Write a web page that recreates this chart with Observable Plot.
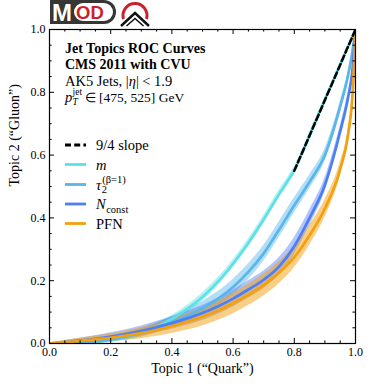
<!DOCTYPE html>
<html><head><meta charset="utf-8">
<script src="https://cdn.jsdelivr.net/npm/d3@7"></script>
<script src="https://cdn.jsdelivr.net/npm/@observablehq/plot@0.6"></script>
<style>
body{margin:0;background:#fff;}
#wrap{position:relative;width:374px;height:388px;}
svg text{font-family:"Liberation Serif",serif;}
</style></head><body>
<div id="wrap"></div>
<script>
// ---- data ----
const xs     = [0, 0.05, 0.1, 0.15, 0.2, 0.25, 0.3, 0.35, 0.4, 0.45, 0.5, 0.55, 0.6, 0.65, 0.7, 0.75, 0.8, 0.85, 0.9, 0.95, 0.975, 0.99, 1];
const mY     = [0, 0.001, 0.003, 0.006, 0.011, 0.02, 0.034, 0.053, 0.078, 0.11, 0.148, 0.196, 0.254, 0.32, 0.395, 0.475, 0.552, 0.662, 0.776, 0.888, 0.944, 0.978, 1];
const mErr   = [0, 0.003, 0.004, 0.005, 0.006, 0.008, 0.009, 0.01, 0.011, 0.012, 0.013, 0.013, 0.013, 0.013, 0.013, 0.013, 0.012, 0.011, 0.01, 0.008, 0.006, 0.004, 0];
const tauY   = [0, 0.001, 0.003, 0.007, 0.013, 0.022, 0.034, 0.05, 0.068, 0.088, 0.112, 0.142, 0.18, 0.228, 0.287, 0.362, 0.44, 0.515, 0.6, 0.755, 0.85, 0.93, 1];
const tauErr = [0, 0.003, 0.005, 0.007, 0.009, 0.012, 0.014, 0.016, 0.018, 0.02, 0.022, 0.023, 0.024, 0.025, 0.025, 0.025, 0.024, 0.022, 0.02, 0.016, 0.012, 0.008, 0];
const nY     = [0, 0.004, 0.009, 0.015, 0.022, 0.03, 0.04, 0.052, 0.065, 0.08, 0.097, 0.118, 0.143, 0.172, 0.203, 0.245, 0.31, 0.4, 0.505, 0.675, 0.78, 0.87, 1];
const nErr   = [0, 0.005, 0.008, 0.01, 0.012, 0.014, 0.016, 0.018, 0.02, 0.022, 0.024, 0.026, 0.027, 0.028, 0.028, 0.028, 0.027, 0.025, 0.022, 0.018, 0.014, 0.01, 0];
const pY     = [0, 0.004, 0.008, 0.013, 0.018, 0.025, 0.033, 0.043, 0.055, 0.069, 0.085, 0.104, 0.128, 0.155, 0.186, 0.225, 0.275, 0.345, 0.43, 0.555, 0.66, 0.79, 1];
const pErr   = [0, 0.006, 0.009, 0.011, 0.013, 0.015, 0.018, 0.02, 0.023, 0.026, 0.029, 0.031, 0.033, 0.034, 0.035, 0.035, 0.034, 0.032, 0.028, 0.022, 0.016, 0.01, 0];
const slopeX = [0.8, 1.0];
const slopeY = [0.55, 1.0];
const majorTicks = [0, 0.2, 0.4, 0.6, 0.8, 1.0];
const minorTicks = [0.05, 0.1, 0.15, 0.25, 0.3, 0.35, 0.45, 0.5, 0.55, 0.65, 0.7, 0.75, 0.85, 0.9, 0.95];
const xLabel = "Topic 1 (“Quark”)";
const yLabel = "Topic 2 (“Gluon”)";

// ---- styles ----
const W = 374, H = 388, ML = 49, MR = 19, MT = 29, MB = 45;
const innerW = W - ML - MR, innerH = H - MT - MB;
const series = [
  {key: "m", y: mY, err: mErr, color: "#5ce1e6", op: 0.45},
  {key: "tau", y: tauY, err: tauErr, color: "#58b6ec", op: 0.45},
  {key: "n", y: nY, err: nErr, color: "#4d7ef7", op: 0.45},
  {key: "pfn", y: pY, err: pErr, color: "#f3a00f", op: 0.5}
];
const tables = series.map(s => xs.map((x, i) => ({x, y: s.y[i], lo: Math.max(0, s.y[i] - s.err[i]), hi: Math.min(1, s.y[i] + s.err[i])})));
const slope = slopeX.map((x, i) => ({x, y: slopeY[i]}));

const majLen = 5, minLen = 2.6;
const tickMarks = (vals, len) => [
  Plot.tickX(vals, {x: d => d, insetTop: innerH - len, stroke: "black", strokeWidth: 1}),
  Plot.tickX(vals, {x: d => d, insetBottom: innerH - len, stroke: "black", strokeWidth: 1}),
  Plot.tickY(vals, {y: d => d, insetRight: innerW - len, stroke: "black", strokeWidth: 1}),
  Plot.tickY(vals, {y: d => d, insetLeft: innerW - len, stroke: "black", strokeWidth: 1})
];

const chart = Plot.plot({
  width: W, height: H,
  marginLeft: ML, marginRight: MR, marginTop: MT, marginBottom: MB,
  x: {domain: [0, 1]},
  y: {domain: [0, 1]},
  clip: true,
  style: {fontFamily: "Liberation Serif", fontSize: "12px", color: "black", background: "white"},
  marks: [
    ...series.map((s, k) => Plot.areaY(tables[k], {x: "x", y1: "lo", y2: "hi", fill: s.color, fillOpacity: s.op, curve: "monotone-x"})),
    ...series.map((s, k) => Plot.line(tables[k], {x: "x", y: "y", stroke: s.color, strokeWidth: 2.7, curve: "monotone-x"})),
    Plot.line(slope, {x: "x", y: "y", stroke: "black", strokeWidth: 2.5, strokeDasharray: "6,3.2"}),
    Plot.frame({stroke: "black", strokeWidth: 1.2, clip: false}),
    ...tickMarks(majorTicks, majLen),
    ...tickMarks(minorTicks, minLen),
    Plot.axisX(majorTicks, {tickSize: 0, tickPadding: 4, tickFormat: d3.format(".1f"), fontSize: 12, label: null, clip: false}),
    Plot.axisY(majorTicks, {tickSize: 0, tickPadding: 4, tickFormat: d3.format(".1f"), fontSize: 12, label: null, clip: false}),
    Plot.text([xLabel], {frameAnchor: "bottom", dy: 29, fontSize: 14, clip: false}),
    Plot.text([yLabel], {frameAnchor: "left", dx: -35, rotate: -90, fontSize: 14, clip: false})
  ]
});
document.getElementById("wrap").appendChild(chart);

// ---- annotations, legend, logo ----
const svg = d3.select(chart);
const g = svg.append("g").attr("fill", "black").attr("text-anchor", "start");

function rich(x, y, parts, base) {
  let cur = x, prevStart = x, prevEnd = x;
  for (const p of parts) {
    const start = p.stack ? prevStart : cur;
    const t = g.append("text")
      .attr("text-anchor", "start")
      .attr("x", start + (p.dx || 0)).attr("y", y + (p.dy || 0))
      .attr("font-size", p.size || base.size)
      .attr("font-style", p.italic ? "italic" : null)
      .attr("font-weight", (p.bold || base.bold) ? "bold" : null)
      .text(p.t);
    const w = t.node().getComputedTextLength();
    const end = start + (p.dx || 0) + w;
    if (p.stack) { cur = Math.max(prevEnd, end); prevEnd = cur; }
    else { cur = end; prevStart = start; prevEnd = end; }
  }
}

rich(65, 53, [{t: "Jet Topics ROC Curves"}], {size: 14, bold: true});
rich(65, 69, [{t: "CMS 2011 with CVU"}], {size: 14, bold: true});
rich(65, 85.5, [{t: "AK5 Jets, |"}, {t: "η", italic: true}, {t: "|"}, {t: "<", dx: 3.5}, {t: "1.9", dx: 3.5}], {size: 14.5});
rich(65, 102, [{t: "p", italic: true, size: 14.5}, {t: "T", italic: true, size: 9.5, dy: 3, dx: 0.3}, {t: "jet", size: 9.5, dy: -7, stack: true, dx: 0.3}, {t: "∈", size: 13, dx: 3}, {t: "[475,\u00a0525]\u00a0GeV", dx: 3}], {size: 13.5});

// legend
const legRows = [145, 164.5, 184.5, 204, 223.5];
const legX1 = 65, legX2 = 86, legTx = 96;
const legendItems = [
  {color: "black", dash: "6,3.2", parts: [{t: "9/4 slope"}]},
  {color: series[0].color, parts: [{t: "m", italic: true}]},
  {color: series[1].color, parts: [{t: "τ", italic: true}, {t: "2", size: 10.5, dy: 3.5, dx: 0.5}, {t: "(β=1)", size: 10.5, dy: -7, stack: true, dx: 1}]},
  {color: series[2].color, parts: [{t: "N", italic: true}, {t: "const", size: 10.5, dy: 3.5, dx: 0.5}]},
  {color: series[3].color, parts: [{t: "PFN"}]}
];
legendItems.forEach((it, i) => {
  const y = legRows[i];
  g.append("line").attr("x1", legX1).attr("x2", legX2).attr("y1", y).attr("y2", y)
    .attr("stroke", it.color).attr("stroke-width", 2.8).attr("stroke-dasharray", it.dash || null);
  rich(legTx, y + 5, it.parts, {size: 14.5});
});

// logo
const logo = svg.append("g").attr("text-anchor", "start");
logo.append("path").attr("d", "M50,0 H104 A12,12 0 0 1 104,24 H50 Z").attr("fill", "#363636");
logo.append("text").attr("text-anchor", "start").attr("x", 52).attr("y", 21).attr("fill", "white").attr("font-size", 24)
  .attr("font-weight", "bold").style("font-family", "Liberation Sans, Arial, sans-serif").text("M");
logo.append("rect").attr("x", 74).attr("y", 3).attr("width", 39).attr("height", 18).attr("rx", 9).attr("fill", "white");
logo.append("text").attr("text-anchor", "start").attr("x", 76).attr("y", 19).attr("fill", "#c8222c").attr("font-size", 18.5)
  .attr("font-weight", "bold").style("font-family", "Liberation Sans, Arial, sans-serif").text("OD");
logo.append("path").attr("d", "M123.5,19 A12,12 0 1 1 146.5,19").attr("fill", "none").attr("stroke", "#c8222c").attr("stroke-width", 3);
logo.append("path").attr("d", "M121,26 L135,13 L149,26").attr("fill", "none").attr("stroke", "#111").attr("stroke-width", 2.4);
logo.append("path").attr("d", "M126.5,26 L135,18.5 L143.5,26").attr("fill", "none").attr("stroke", "#111").attr("stroke-width", 1.6);
</script>
</body></html>
